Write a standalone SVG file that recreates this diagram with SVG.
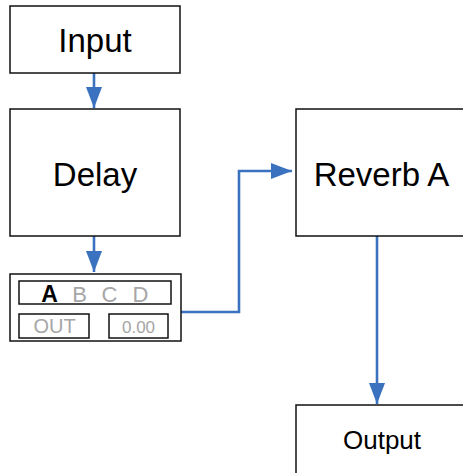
<svg xmlns="http://www.w3.org/2000/svg" width="463" height="473" viewBox="0 0 463 473">
<style>
.box{fill:#fff;stroke:#111;stroke-width:1.5}
.sub{fill:#fff;stroke:#111;stroke-width:1.5}
.t{font-family:"Liberation Sans",Arial,sans-serif;fill:#000;text-anchor:middle}
.g{fill:#a6a6a6}
.c{fill:none;stroke:#3a72c0;stroke-width:2.6}
</style>
<defs>
<marker id="ah" markerWidth="21" markerHeight="16" refX="21" refY="8" markerUnits="userSpaceOnUse" orient="auto">
<path d="M0,0 L21,8 L0,16 Z" fill="#3a72c0"/>
</marker>
</defs>
<g id="connectors">
<path class="c" d="M94,73 V108" marker-end="url(#ah)"/>
<path class="c" d="M94,236 V272" marker-end="url(#ah)"/>
<path class="c" d="M181,312 H239 V171 H292" marker-end="url(#ah)"/>
<path class="c" d="M377,236 V404" marker-end="url(#ah)"/>
</g>
<g id="input">
<rect class="box" x="10" y="6" width="170" height="67"/>
<text class="t" x="95" y="52" font-size="33">Input</text>
</g>
<g id="delay">
<rect class="box" x="10" y="109" width="170" height="127"/>
<text class="t" x="95" y="186" font-size="33">Delay</text>
</g>
<g id="selector">
<rect class="box" x="10" y="274" width="171" height="67"/>
<rect class="sub" x="19" y="281" width="152" height="23"/>
<text class="t" x="49.5" y="302" font-size="23" font-weight="bold">A</text>
<text class="t g" x="79.5" y="302" font-size="22">B</text>
<text class="t g" x="109.5" y="302" font-size="22">C</text>
<text class="t g" x="140.5" y="302" font-size="22">D</text>
<rect class="sub" x="19" y="314" width="70" height="24"/>
<text class="t g" x="54.5" y="333" font-size="20">OUT</text>
<rect class="sub" x="109" y="314" width="59" height="24"/>
<text class="t g" x="138.5" y="333" font-size="17">0.00</text>
</g>
<g id="reverb">
<rect class="box" x="296" y="109" width="175" height="127"/>
<text class="t" x="381.5" y="186" font-size="33">Reverb A</text>
</g>
<g id="output">
<rect class="box" x="296" y="405" width="175" height="75"/>
<text class="t" x="382" y="449" font-size="26">Output</text>
</g>
</svg>
